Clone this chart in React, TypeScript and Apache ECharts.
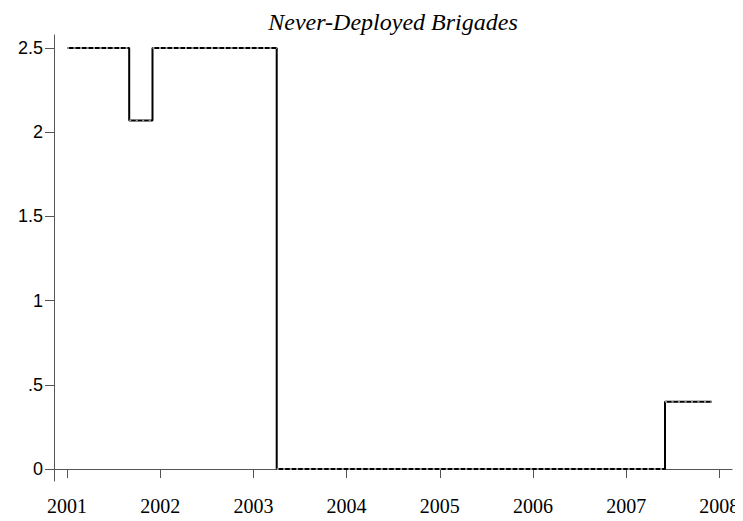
import React, { useEffect, useRef } from "react";
import * as echarts from "echarts";

// Breakpoints of the step series (decimal year, value held until next point)
const stepYears = [2001, 2001.667, 2001.917, 2003.25, 2007.417, 2007.917];
const stepValues = [2.5, 2.07, 2.5, 0, 0.4, 0.4];
const xTicks = [2001, 2002, 2003, 2004, 2005, 2006, 2007, 2008];
const yTicks = [0, 0.5, 1, 1.5, 2, 2.5];
const titleText = "Never-Deployed Brigades";

export default function App() {
  const ref = useRef<HTMLDivElement>(null);
  useEffect(() => {
    if (!ref.current) return;
    const chart = echarts.init(ref.current, undefined, { renderer: "svg" });
    const stepData = stepYears.map((x, i) => [x, stepValues[i]]);
    // horizontal segments for dashed overlay
    const segData: any[] = [];
    for (let i = 0; i < stepYears.length - 1; i++) {
      segData.push([stepYears[i], stepValues[i]]);
      segData.push([stepYears[i + 1], stepValues[i]]);
      segData.push([stepYears[i + 1], "-"]);
    }
    const axisColor = "#555";
    chart.setOption({
      animation: false,
      backgroundColor: "#fff",
      title: {
        text: titleText,
        left: 388,
        textAlign: "center",
        top: 5,
        textStyle: {
          fontFamily: "Liberation Serif",
          fontStyle: "italic",
          fontWeight: "normal",
          fontSize: 24,
          color: "#000",
        },
      },
      grid: { left: 54, right: 11, top: 35, bottom: 40, containLabel: false },
      xAxis: {
        type: "value",
        min: 2000.86,
        max: 2008.136,
        splitLine: { show: false },
        axisLine: { show: true, lineStyle: { color: axisColor, width: 1 } },
        axisTick: {
          show: true,
          length: 9,
          customValues: xTicks,
          lineStyle: { color: axisColor, width: 1 },
        },
        axisLabel: {
          customValues: xTicks,
          formatter: (v: number) => String(Math.round(v)),
          fontFamily: "Liberation Serif",
          fontSize: 20,
          color: "#000",
          margin: 15,
        },
      },
      yAxis: {
        type: "value",
        min: -0.071,
        max: 2.577,
        splitLine: { show: false },
        axisLine: { show: true, lineStyle: { color: axisColor, width: 1 } },
        axisTick: {
          show: true,
          length: 9,
          customValues: yTicks,
          lineStyle: { color: axisColor, width: 1 },
        },
        axisLabel: {
          customValues: yTicks,
          formatter: (v: number) =>
            v === 0 ? "0" : String(v).replace(/^0\./, "."),
          fontFamily: "Liberation Sans",
          fontSize: 18,
          color: "#000",
          margin: 11,
        },
      },
      series: [
        {
          type: "line",
          step: "end",
          data: stepData,
          showSymbol: false,
          symbol: "none",
          lineStyle: { color: "#000", width: 2 },
          z: 2,
        },
        {
          type: "line",
          data: segData,
          showSymbol: false,
          symbol: "none",
          connectNulls: false,
          lineStyle: {
            color: "#9a9a9a",
            width: 2,
            type: [2, 4.5],
          },
          z: 3,
        },
      ],
    });
    return () => chart.dispose();
  }, []);
  return <div ref={ref} style={{ width: 743, height: 521, margin: -8 }} />;
}
